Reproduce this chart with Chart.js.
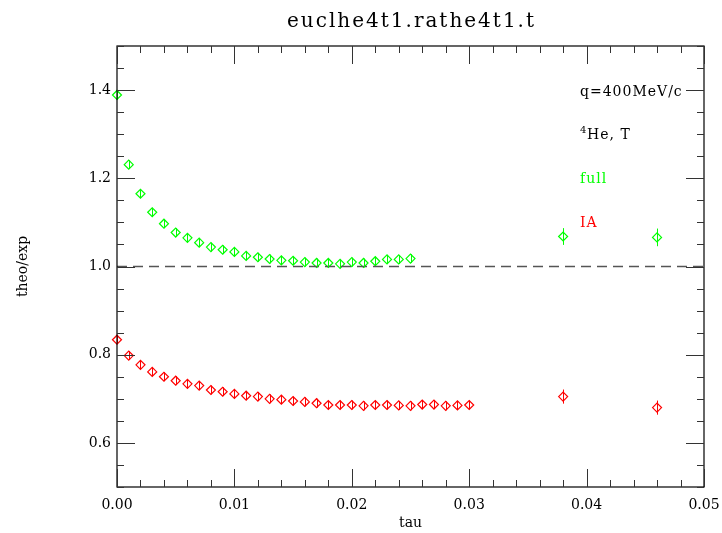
<!DOCTYPE html>
<html>
<head>
<meta charset="utf-8">
<script src="https://cdn.jsdelivr.net/npm/chart.js@4"></script>
<style>
  html, body { margin: 0; padding: 0; background: #fff; }
  #wrap { width: 722px; height: 533px; }
</style>
</head>
<body>
<div id="wrap"><canvas id="c" width="722" height="533"></canvas></div>
<script>
// data
const tauFull = [0, 0.001, 0.002, 0.003, 0.004, 0.005, 0.006, 0.007, 0.008, 0.009,
  0.010, 0.011, 0.012, 0.013, 0.014, 0.015, 0.016, 0.017, 0.018, 0.019,
  0.020, 0.021, 0.022, 0.023, 0.024, 0.025, 0.038, 0.046]
const full = [1.389, 1.231, 1.165, 1.123, 1.097, 1.077, 1.065, 1.054, 1.044, 1.038,
  1.033, 1.024, 1.021, 1.017, 1.014, 1.013, 1.010, 1.008, 1.008, 1.006,
  1.010, 1.008, 1.012, 1.016, 1.016, 1.018, 1.068, 1.066]
const fullErr = [0.01, 0.01, 0.01, 0.01, 0.01, 0.01, 0.01, 0.01, 0.01, 0.01,
  0.01, 0.01, 0.01, 0.01, 0.01, 0.01, 0.01, 0.01, 0.01, 0.01,
  0.01, 0.01, 0.01, 0.01, 0.01, 0.01, 0.019, 0.02]

const tauIA = [0, 0.001, 0.002, 0.003, 0.004, 0.005, 0.006, 0.007, 0.008, 0.009,
  0.010, 0.011, 0.012, 0.013, 0.014, 0.015, 0.016, 0.017, 0.018, 0.019,
  0.020, 0.021, 0.022, 0.023, 0.024, 0.025, 0.026, 0.027, 0.028, 0.029,
  0.030, 0.038, 0.046]
const ia = [0.834, 0.798, 0.777, 0.761, 0.750, 0.741, 0.734, 0.730, 0.720, 0.716,
  0.711, 0.707, 0.705, 0.700, 0.698, 0.695, 0.693, 0.690, 0.686, 0.686,
  0.686, 0.684, 0.686, 0.686, 0.685, 0.684, 0.687, 0.687, 0.684, 0.685,
  0.686, 0.705, 0.680]
const iaErr = [0.01, 0.01, 0.01, 0.01, 0.01, 0.01, 0.01, 0.01, 0.01, 0.01,
  0.01, 0.01, 0.01, 0.01, 0.01, 0.01, 0.01, 0.01, 0.01, 0.01,
  0.01, 0.01, 0.01, 0.01, 0.01, 0.01, 0.01, 0.01, 0.01, 0.01,
  0.01, 0.016, 0.016]

const xTicks = [0, 0.01, 0.02, 0.03, 0.04, 0.05]
const xTickLabels = ['0.00', '0.01', '0.02', '0.03', '0.04', '0.05']
const yTicks = [0.6, 0.8, 1.0, 1.2, 1.4]
const yTickLabels = ['0.6', '0.8', '1.0', '1.2', '1.4']

const TITLE = 'euclhe4t1.rathe4t1.t'
const FONT = "'DejaVu Serif', serif"

// error bars, inside ticks on the frame, title and text labels
const framePlugin = {
  id: 'frame',
  afterDatasetsDraw(chart) {
    const ctx = chart.ctx
    const ys = chart.scales.y
    chart.data.datasets.forEach((ds, di) => {
      if (!ds.err) return
      const meta = chart.getDatasetMeta(di)
      ctx.save()
      ctx.strokeStyle = ds.borderColor
      ctx.lineWidth = 1
      meta.data.forEach((pt, i) => {
        const v = ds.data[i].y
        const e = ds.err[i]
        ctx.beginPath()
        ctx.moveTo(Math.round(pt.x) + 0.5, ys.getPixelForValue(v + e))
        ctx.lineTo(Math.round(pt.x) + 0.5, ys.getPixelForValue(v - e))
        ctx.stroke()
      })
      ctx.restore()
    })
  },
  afterDraw(chart) {
    const ctx = chart.ctx
    const a = chart.chartArea
    const xs = chart.scales.x
    const ys = chart.scales.y
    ctx.save()
    ctx.strokeStyle = '#000'
    ctx.lineWidth = 1.2
    ctx.strokeRect(a.left, a.top, a.right - a.left, a.bottom - a.top)
    ctx.lineWidth = 1
    ctx.strokeStyle = '#333'
    ctx.beginPath()
    for (let k = 0; k <= 25; k++) {
      const px = Math.round(xs.getPixelForValue(k * 0.002)) + 0.5
      const len = k % 5 === 0 ? 18 : 7
      ctx.moveTo(px, a.bottom); ctx.lineTo(px, a.bottom - len)
      ctx.moveTo(px, a.top); ctx.lineTo(px, a.top + len)
    }
    for (let k = 0; k <= 20; k++) {
      const v = 0.5 + k * 0.05
      const py = Math.round(ys.getPixelForValue(v)) + 0.5
      const len = (k - 2) % 4 === 0 ? 18 : 7
      ctx.moveTo(a.left, py); ctx.lineTo(a.left + len, py)
      ctx.moveTo(a.right, py); ctx.lineTo(a.right - len, py)
    }
    ctx.stroke()

    // title
    ctx.fillStyle = '#000'
    ctx.textBaseline = 'middle'
    ctx.textAlign = 'center'
    ctx.font = '20px ' + FONT
    ctx.letterSpacing = '2px'
    ctx.fillText(TITLE, (a.left + a.right) / 2 + 1, 22)

    // annotation text
    ctx.textAlign = 'left'
    ctx.letterSpacing = '1px'
    ctx.font = '14px ' + FONT
    ctx.fillText('q=400MeV/c', 580, 92)
    ctx.font = '10px ' + FONT
    ctx.fillText('4', 580, 130)
    ctx.font = '14px ' + FONT
    ctx.fillText('He, T', 587, 135)
    ctx.fillStyle = '#00ff00'
    ctx.fillText('full', 580, 179)
    ctx.fillStyle = '#ff0000'
    ctx.fillText('IA', 580, 223)
    ctx.letterSpacing = '0px'
    ctx.restore()
  }
}

const toPts = (xs, ys) => xs.map((x, i) => ({ x: x, y: ys[i] }))

new Chart(document.getElementById('c'), {
  type: 'scatter',
  data: {
    datasets: [
      {
        label: 'ref',
        type: 'line',
        data: [{ x: 0, y: 1 }, { x: 0.05, y: 1 }],
        borderColor: '#555',
        borderWidth: 1.5,
        borderDash: [10, 6],
        pointRadius: 0,
        fill: false
      },
      {
        label: 'full',
        data: toPts(tauFull, full),
        err: fullErr,
        borderColor: '#00ff00',
        backgroundColor: 'rgba(0,0,0,0)',
        pointStyle: 'rectRot',
        pointRadius: 4.5,
        pointBorderWidth: 1.2,
        clip: false
      },
      {
        label: 'IA',
        data: toPts(tauIA, ia),
        err: iaErr,
        borderColor: '#ff0000',
        backgroundColor: 'rgba(0,0,0,0)',
        pointStyle: 'rectRot',
        pointRadius: 4.5,
        pointBorderWidth: 1.2,
        clip: false
      }
    ]
  },
  options: {
    responsive: false,
    animation: false,
    layout: { padding: { top: 46, right: 18, left: 0, bottom: 0 } },
    plugins: {
      legend: { display: false },
      tooltip: { enabled: false },
      title: { display: false }
    },
    scales: {
      x: {
        type: 'linear',
        min: 0,
        max: 0.05,
        afterBuildTicks: (s) => { s.ticks = xTicks.map(v => ({ value: v })) },
        afterFit: (s) => { s.height = 46; s.paddingLeft = 0; s.paddingRight = 0 },
        grid: { display: false, drawTicks: false },
        border: { display: false },
        ticks: {
          padding: 10,
          color: '#000',
          maxRotation: 0,
          autoSkip: false,
          font: { family: FONT, size: 14 },
          callback: (v, i) => xTickLabels[i]
        },
        title: {
          display: true,
          text: 'tau',
          color: '#000',
          font: { family: FONT, size: 14 },
          padding: { top: 0, bottom: 1 }
        }
      },
      y: {
        type: 'linear',
        min: 0.5,
        max: 1.5,
        afterBuildTicks: (s) => { s.ticks = yTicks.map(v => ({ value: v })) },
        afterFit: (s) => { s.width = 117; s.paddingTop = 0; s.paddingBottom = 0 },
        grid: { display: false, drawTicks: false },
        border: { display: false },
        ticks: {
          padding: 6,
          color: '#000',
          autoSkip: false,
          font: { family: FONT, size: 14 },
          callback: (v, i) => yTickLabels[i]
        },
        title: {
          display: true,
          text: 'theo/exp',
          color: '#000',
          font: { family: FONT, size: 14 },
          padding: { top: 15, bottom: 0 }
        }
      }
    }
  },
  plugins: [framePlugin]
})
</script>
</body>
</html>
